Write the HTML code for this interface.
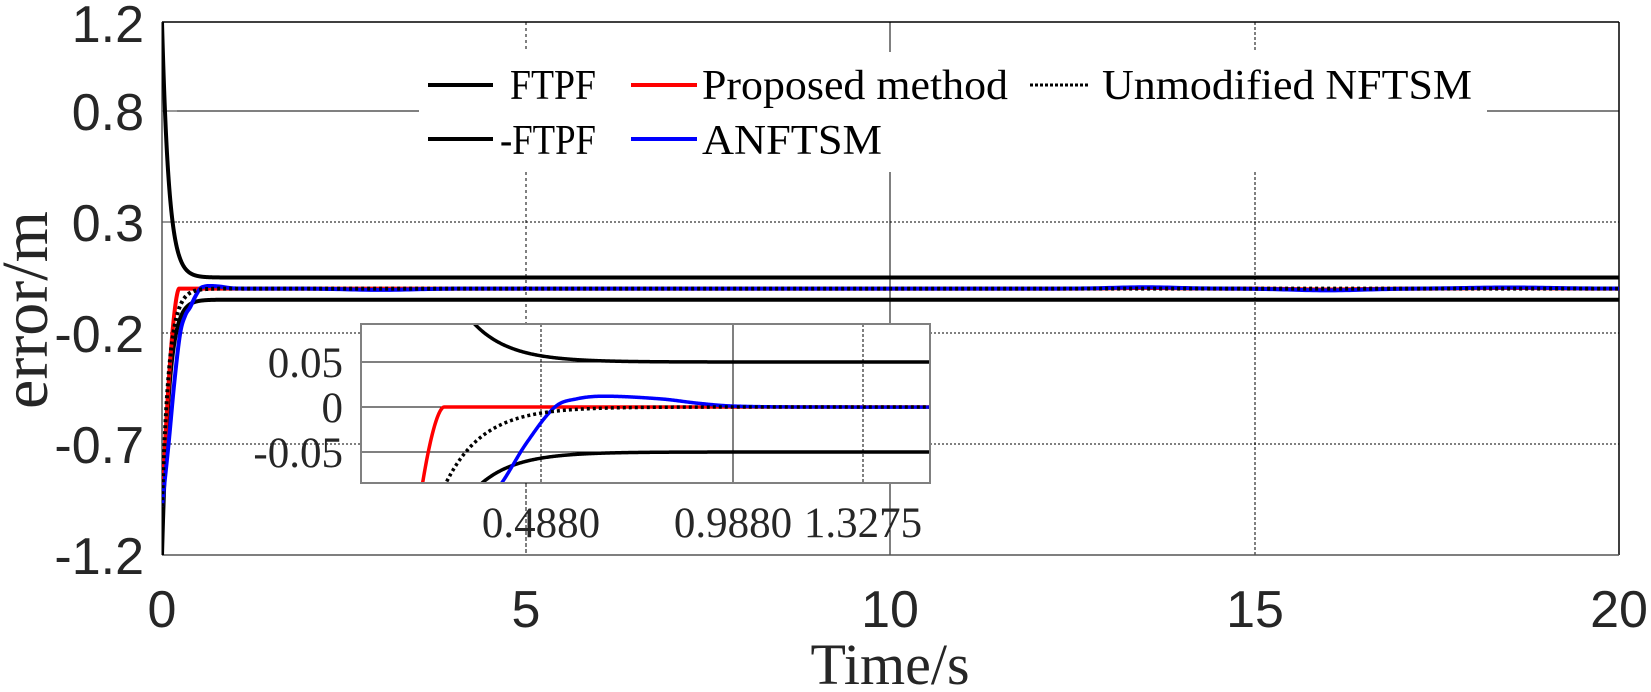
<!DOCTYPE html>
<html><head><meta charset="utf-8"><style>
html,body{margin:0;padding:0;background:#fff;overflow:hidden;}
svg{display:block;}
</style></head><body>
<svg id="s" width="1651" height="692" viewBox="0 0 1651 692" xmlns="http://www.w3.org/2000/svg">
<defs>
<clipPath id="mc"><rect x="162" y="22" width="1457" height="533"/></clipPath>
<clipPath id="ic"><rect x="361" y="324" width="569" height="159"/></clipPath>
</defs>
<rect width="1651" height="692" fill="#fff"/>
<g stroke="#000" stroke-width="1" fill="none">
<line x1="162" y1="111" x2="1619" y2="111"/>
<line x1="162" y1="222" x2="1619" y2="222" stroke-dasharray="2,2"/>
<line x1="162" y1="333" x2="1619" y2="333" stroke-dasharray="2,2"/>
<line x1="162" y1="444" x2="1619" y2="444" stroke-dasharray="2,2"/>
<line x1="526" y1="22" x2="526" y2="555" stroke-dasharray="3,3"/>
<line x1="890" y1="22" x2="890" y2="555"/>
<line x1="1255" y1="22" x2="1255" y2="555" stroke-dasharray="3,2"/>
</g>
<rect x="419" y="52" width="1068" height="120" fill="#fff"/>
<line x1="162" y1="22" x2="1619" y2="22" stroke="#000" stroke-width="1.5"/>
<line x1="1619" y1="22" x2="1619" y2="555" stroke="#000" stroke-width="1.5"/>
<line x1="162" y1="22" x2="162" y2="555" stroke="#555" stroke-width="1.5"/>
<line x1="162" y1="555" x2="1619" y2="555" stroke="#555" stroke-width="1.5"/>
<g stroke="#555" stroke-width="1.2">
<line x1="162" y1="111" x2="177" y2="111"/><line x1="162" y1="222" x2="177" y2="222"/>
</g>
<g clip-path="url(#mc)" fill="none" stroke-linejoin="round">
<path id="mU" stroke="#000" stroke-width="4"/>
<path id="mL" stroke="#000" stroke-width="4"/>
<path id="mR" stroke="#f00" stroke-width="4"/>
<path id="mB" stroke="#00f" stroke-width="4"/>
<path id="mD" stroke="#000" stroke-width="4" stroke-dasharray="3,3"/>
</g>
<g font-family="Liberation Serif, serif" font-size="42" fill="#000">
<line x1="428" y1="85" x2="493" y2="85" stroke="#000" stroke-width="4"/>
<text x="510" y="99" textLength="86" lengthAdjust="spacingAndGlyphs">FTPF</text>
<line x1="631" y1="85" x2="697" y2="85" stroke="#f00" stroke-width="4"/>
<text x="702" y="99" textLength="306" lengthAdjust="spacingAndGlyphs">Proposed method</text>
<line x1="1030" y1="85" x2="1090" y2="85" stroke="#000" stroke-width="3" stroke-dasharray="3,2"/>
<text x="1102" y="99" textLength="370" lengthAdjust="spacingAndGlyphs">Unmodified NFTSM</text>
<line x1="428" y1="139" x2="493" y2="139" stroke="#000" stroke-width="4"/>
<text x="500" y="154" textLength="96" lengthAdjust="spacingAndGlyphs">-FTPF</text>
<line x1="631" y1="139" x2="697" y2="139" stroke="#00f" stroke-width="4"/>
<text x="702" y="154" textLength="180" lengthAdjust="spacingAndGlyphs">ANFTSM</text>
</g>
<rect x="361" y="324" width="569" height="159" fill="#fff"/>
<g stroke="#000" stroke-width="1" fill="none">
<line x1="361" y1="362" x2="930" y2="362"/>
<line x1="361" y1="407" x2="930" y2="407"/>
<line x1="361" y1="452" x2="930" y2="452"/>
<line x1="541" y1="324" x2="541" y2="483" stroke-dasharray="3,2"/>
<line x1="733" y1="324" x2="733" y2="483"/>
<line x1="863" y1="324" x2="863" y2="483" stroke-dasharray="3,2"/>
</g>
<g clip-path="url(#ic)" fill="none" stroke-linejoin="round">
<path id="iU" stroke="#000" stroke-width="3.5"/>
<path id="iL" stroke="#000" stroke-width="3.5"/>
<path id="iR" stroke="#f00" stroke-width="3.5"/>
<path id="iB" stroke="#00f" stroke-width="3.5"/>
<path id="iD" stroke="#000" stroke-width="3.5" stroke-dasharray="3,3"/>
</g>
<rect x="361" y="324" width="569" height="159" fill="none" stroke="#808080" stroke-width="2"/>
<line x1="526" y1="483" x2="526" y2="555" stroke="#000" stroke-width="1" stroke-dasharray="3,3"/>
<g font-family="Liberation Sans, sans-serif" font-size="52" fill="#262626" text-anchor="end">
<text x="144" y="42">1.2</text>
<text x="144" y="130">0.8</text>
<text x="144" y="241">0.3</text>
<text x="144" y="352">-0.2</text>
<text x="144" y="463">-0.7</text>
<text x="144" y="574">-1.2</text>
</g>
<g font-family="Liberation Sans, sans-serif" font-size="52" fill="#262626" text-anchor="middle">
<text x="162" y="627">0</text>
<text x="526" y="627">5</text>
<text x="890" y="627">10</text>
<text x="1255" y="627">15</text>
<text x="1619" y="627">20</text>
</g>
<g font-family="Liberation Serif, serif" font-size="43" fill="#262626">
<text x="343" y="377" text-anchor="end">0.05</text>
<text x="343" y="422" text-anchor="end">0</text>
<text x="343" y="467" text-anchor="end">-0.05</text>
<text x="541" y="537" text-anchor="middle">0.4880</text>
<text x="733" y="537" text-anchor="middle">0.9880</text>
<text x="863" y="537" text-anchor="middle">1.3275</text>
</g>
<text x="890" y="684" font-family="Liberation Serif, serif" font-size="58" fill="#262626" text-anchor="middle">Time/s</text>
<text x="0" y="0" transform="translate(47,310) rotate(-90)" font-family="Liberation Serif, serif" font-size="66" fill="#262626" text-anchor="middle">error/m</text>
</svg>
<script>
(function(){
var X=function(t){return 162+t*72.85;},Y=function(v){return 288.6-v*222;};
var x=function(t){return 361+(t-0.019)*384;},y=function(v){return 407-v*900;};
function rho(t){return 1.15*Math.exp(-10.5*t)+0.05;}
function red(t){return t<0.235?-0.98*Math.pow(1-t/0.235,1.7):0;}
function dot(t){return -0.98*Math.exp(-10.2*t);}
var P=[[0,-0.98],[0.09,-0.7],[0.17,-0.42],[0.25,-0.2],[0.32,-0.12],[0.386,-0.084],[0.45,-0.04],[0.524,0],[0.58,0.009],[0.65,0.012],[0.8,0.009],[0.9,0.004],[0.99,0.001],[1.2,0],[2,0]];
function herm(t){
 if(t>=2)return 0;
 var i=0;while(i<P.length-2&&t>P[i+1][0])i++;
 var t1=P[i][0],t2=P[i+1][0],v1=P[i][1],v2=P[i+1][1];
 var m1=i>0?(v2-P[i-1][1])/(t2-P[i-1][0]):(v2-v1)/(t2-t1);
 var m2=i+2<P.length?(P[i+2][1]-v1)/(P[i+2][0]-t1):(v2-v1)/(t2-t1);
 var h=t2-t1,u=(t-t1)/h,u2=u*u,u3=u2*u;
 return (2*u3-3*u2+1)*v1+(u3-2*u2+u)*h*m1+(-2*u3+3*u2)*v2+(u3-u2)*h*m2;
}
function bump(t,c,a,w){return a*Math.exp(-Math.pow((t-c)/w,2));}
function blue(t){return herm(t)+bump(t,3,-0.006,0.6)+bump(t,13.5,0.006,0.6)+bump(t,16,-0.008,0.7)+bump(t,18.5,0.005,0.8);}
function redM(t){return red(t)+bump(t,13.5,0.003,0.5)+bump(t,16,-0.004,0.6)+bump(t,18.5,0.003,0.6);}
function path(f,XF,YF,t0,t1,ts){
 var d="",t;for(var k=0;;k++){t=t0+k*ts;if(t>t1)t=t1;d+=(k?"L":"M")+XF(t).toFixed(2)+","+YF(f(t)).toFixed(2);if(t>=t1)break;}return d;}
function mainPath(f){return path(f,X,Y,0,1.5,0.002)+path(f,X,Y,1.5,20,0.05).replace("M","L");}
function set(id,d){document.getElementById(id).setAttribute("d",d);}
set("mU",mainPath(rho));
set("mL",mainPath(function(t){return -rho(t);}));
set("mR",mainPath(redM));
set("mB",mainPath(blue));
set("mD",mainPath(dot));
function ip(f){return path(f,x,y,0.0,1.55,0.002);}
set("iU",ip(rho));
set("iL",ip(function(t){return -rho(t);}));
set("iR",ip(red));
set("iB",ip(herm));
set("iD",ip(dot));
})();
</script>
</body></html>
